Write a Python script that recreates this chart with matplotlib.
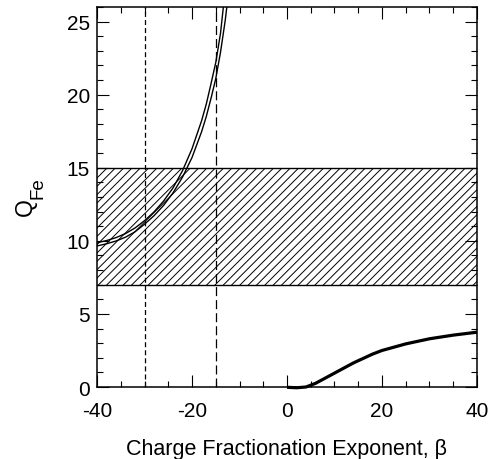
import matplotlib
matplotlib.use("Agg")
import matplotlib.pyplot as plt
from matplotlib.ticker import MultipleLocator

plt.rcParams['font.family'] = ['Liberation Sans', 'DejaVu Sans']
plt.rcParams['axes.unicode_minus'] = False
plt.rcParams['hatch.linewidth'] = 0.7
plt.rcParams['lines.scale_dashes'] = False

# Q_Fe vs beta, two solutions on the negative side
beta_a = [-40, -38, -36, -34, -32, -30, -28, -26, -24, -22, -20, -18, -17, -16, -15, -14, -13.4, -13.2]
q_a = [9.87, 10.02, 10.22, 10.5, 10.88, 11.38, 11.98, 12.72, 13.62, 14.8, 16.3, 18.2,
       19.35, 20.75, 22.2, 24.2, 26.0, 26.6]

beta_b = [-40, -38, -36, -34, -32, -30, -28, -26, -24, -22, -20, -18, -17, -16, -15, -14, -13, -12.6, -12.4]
q_b = [9.65, 9.8, 9.99, 10.25, 10.62, 11.14, 11.72, 12.42, 13.28, 14.36, 15.7, 17.45,
       18.5, 19.75, 21.1, 22.9, 25.1, 26.2, 26.8]

# positive-beta branch
beta_c = [0, 2, 4, 6, 8, 10, 12, 14, 16, 18, 20, 25, 30, 35, 40]
q_c = [-0.02, -0.05, 0.0, 0.25, 0.6, 0.95, 1.3, 1.65, 1.95, 2.25, 2.5, 2.95, 3.3, 3.55, 3.75]

band = (7, 15)
vlines = [-30, -15]

fig = plt.figure(figsize=(4.93, 4.60), dpi=100)
ax = fig.add_axes([0.1968, 0.1565, 0.7707, 0.8261])

ax.fill_between([-40, 40], band[0], band[1], facecolor='none', edgecolor='black',
                hatch='////', linewidth=0, zorder=1)
ax.axhline(band[0], color='black', lw=1.0, zorder=2)
ax.axhline(band[1], color='black', lw=1.0, zorder=2)

ax.axvline(vlines[0], color='black', lw=0.9, dashes=(3.6, 2.2), zorder=3)
ax.axvline(vlines[1], color='black', lw=0.9, dashes=(6.5, 2.9), zorder=3)

ax.plot(beta_a, q_a, color='black', lw=1.0, zorder=4)
ax.plot(beta_b, q_b, color='black', lw=1.0, zorder=4)
ax.plot(beta_c, q_c, color='black', lw=2.3, zorder=6, clip_on=False,
        solid_capstyle='butt')

ax.set_xlim(-40, 40)
ax.set_ylim(0, 26)
ax.xaxis.set_major_locator(MultipleLocator(20))
ax.xaxis.set_minor_locator(MultipleLocator(5))
ax.yaxis.set_major_locator(MultipleLocator(5))
ax.yaxis.set_minor_locator(MultipleLocator(1))

ax.tick_params(which='both', direction='in', top=True, right=True, width=0.8,
               labelsize=15, colors='black')
ax.tick_params(which='major', length=8.6)
ax.tick_params(axis='x', which='major', pad=10)
ax.tick_params(axis='y', which='major', pad=5)
ax.tick_params(which='minor', length=4.3)
for s in ax.spines.values():
    s.set_linewidth(1.1)

ax.set_xlabel('Charge Fractionation Exponent, \u03b2', fontsize=15.5, labelpad=13)

# y label: Q with a large subscript Fe
fig.text(0.0507, 0.549, 'Q', rotation=90, fontsize=16.5, ha='center', va='center')
fig.text(0.078, 0.592, 'Fe', rotation=90, fontsize=13.5, ha='center', va='center')

fig.savefig('out.png', dpi=100)
